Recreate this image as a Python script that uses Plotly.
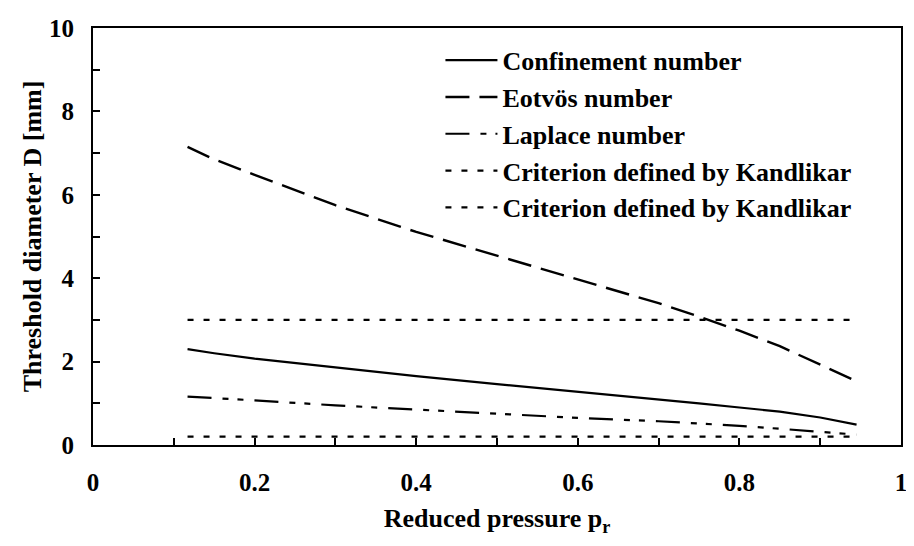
import plotly.graph_objects as go

# reduced pressure p_r
pr = [0.117, 0.15, 0.2, 0.3, 0.4, 0.5, 0.6, 0.7, 0.75, 0.8, 0.85, 0.9, 0.945]

# threshold diameter D [mm]
confinement = [2.30, 2.20, 2.07, 1.86, 1.65, 1.46, 1.28, 1.10, 1.00, 0.90, 0.80, 0.66, 0.49]
eotvos = [7.15, 6.85, 6.48, 5.75, 5.11, 4.54, 3.96, 3.40, 3.08, 2.74, 2.37, 1.93, 1.53]
laplace = [1.16, 1.13, 1.07, 0.95, 0.85, 0.75, 0.65, 0.57, 0.52, 0.46, 0.39, 0.32, 0.25]

kandlikar_x = [0.117, 0.945]
kandlikar_hi = [3.0, 3.0]
kandlikar_lo = [0.2, 0.2]

FONT = "Liberation Serif"

fig = go.Figure()
fig.add_trace(go.Scatter(x=pr, y=confinement, mode="lines", name="Confinement number",
                         line=dict(color="black", width=2.2)))
fig.add_trace(go.Scatter(x=pr, y=eotvos, mode="lines", name="Eotvös number",
                         line=dict(color="black", width=2.4, dash="24px,10px")))
fig.add_trace(go.Scatter(x=pr, y=laplace, mode="lines", name="Laplace number",
                         line=dict(color="black", width=2.2, dash="24px,11px,6px,9px,6px,11px")))
fig.add_trace(go.Scatter(x=kandlikar_x, y=kandlikar_hi, mode="lines", name="Criterion defined by Kandlikar",
                         line=dict(color="black", width=2.2, dash="6px,10px")))
fig.add_trace(go.Scatter(x=kandlikar_x, y=kandlikar_lo, mode="lines", name="Criterion defined by Kandlikar",
                         line=dict(color="black", width=2.2, dash="6px,10px")))

axis_common = dict(
    showline=True, linecolor="black", linewidth=2, mirror=True,
    ticks="inside", ticklen=7, tickwidth=1.5, tickcolor="black",
    showgrid=False, zeroline=False, ticklabeloverflow="allow",
    tickfont=dict(family=FONT, size=25, color="black", weight="bold"),
)

fig.update_xaxes(range=[0, 1], dtick=0.2, ticklabelstandoff=14,
                 minor=dict(dtick=0.1, ticks="inside", ticklen=7, tickcolor="black", tickwidth=1.5),
                 title=dict(text="Reduced pressure p<sub>r</sub>", standoff=14,
                            font=dict(family=FONT, size=26, color="black", weight="bold")),
                 **axis_common)
fig.update_yaxes(range=[0, 10], dtick=2, ticklabelstandoff=12,
                 minor=dict(dtick=1, ticks="inside", ticklen=7, tickcolor="black", tickwidth=1.5),
                 title=dict(text="Threshold diameter D [mm]", standoff=0,
                            font=dict(family=FONT, size=26, color="black", weight="bold")),
                 **axis_common)

# the page body keeps its default 8px margin, so the figure is 8px smaller
fig.update_layout(
    width=906, height=538,
    margin=dict(l=85, r=7, t=10, b=101),
    paper_bgcolor="white", plot_bgcolor="white",
    showlegend=True,
    legend=dict(x=0.43, y=0.979, xanchor="left", yanchor="top",
                bgcolor="rgba(0,0,0,0)", traceorder="normal",
                font=dict(family=FONT, size=26, color="black", weight="bold"),
                itemwidth=52),
)

fig.write_html("out.html")
